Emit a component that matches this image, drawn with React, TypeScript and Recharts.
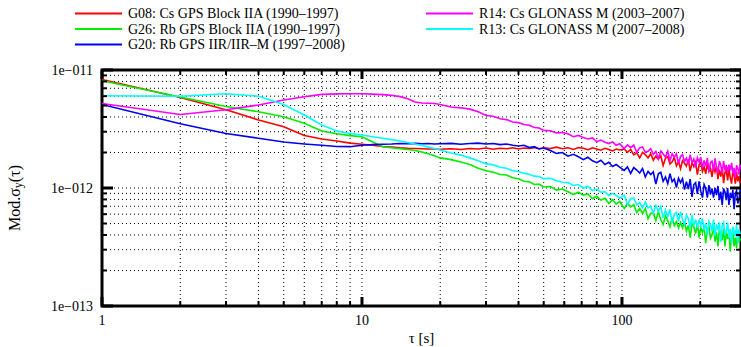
import React from "react";
import {
  LineChart,
  Line,
  XAxis,
  YAxis,
  CartesianGrid,
  ReferenceArea,
} from "recharts";

// averaging time tau [s]
const TAU = [
  1, 2, 3, 4, 5, 6, 7, 8, 9, 10, 11, 12, 13, 14, 15, 16, 17, 18, 19, 20,
  22, 24, 26, 28, 30, 32, 34, 36, 38, 40, 42, 44, 46, 48, 50,
  53, 56, 59, 62, 65, 68, 71, 74, 77, 80, 83, 86, 89, 92, 95, 98,
  102, 105, 108, 111, 114, 117, 120, 123, 126, 129, 132, 135, 138, 141, 144, 147,
  150, 153, 156, 159, 162, 165, 168, 171, 174, 177, 180, 183, 186, 189, 192, 195,
  198, 201, 204, 207, 210, 213, 216, 219, 222, 225, 228, 231, 234, 237, 240, 243,
  246, 249, 252, 255, 258, 261, 264, 267, 270, 273, 276, 279, 282, 285,
];

// Mod. sigma_y(tau), in units of 1e-12
const G08 = [
  8.3, 5.85, 4.6, 3.77, 3.31, 2.78, 2.6, 2.5, 2.4, 2.35, 2.3, 2.25, 2.22, 2.19, 2.17, 2.16, 2.15, 2.14, 2.14, 2.13,
  2.15, 2.12, 2.16, 2.14, 2.18, 2.13, 2.17, 2.15, 2.19, 2.14, 2.18, 2.16, 2.2, 2.15, 2.19,
  2.16, 2.22, 2.15, 2.19, 2.12, 2.2, 2.17, 2.11, 2.19, 2.14, 2.09, 2.17, 2.12, 2.06, 2.14, 2.1,
  2.14, 2.01, 2.12, 1.91, 1.99, 1.8, 2.0, 1.92, 1.8, 1.95, 1.72, 1.86, 1.75, 1.88, 1.55, 1.79,
  1.84, 1.6, 1.67, 1.81, 1.54, 1.68, 1.46, 1.7, 1.62, 1.53, 1.75, 1.39, 1.64, 1.52, 1.66, 1.3,
  1.57, 1.65, 1.38, 1.51, 1.32, 1.62, 1.38, 1.47, 1.24, 1.52, 1.37, 1.53, 1.19, 1.43, 1.25, 1.5,
  1.1, 1.36, 1.41, 1.16, 1.46, 1.22, 1.09, 1.38, 1.28, 1.09, 1.37, 1.14, 1.26, 1.1,
];
const G26 = [
  8.1, 5.9, 4.9, 4.43, 4.02, 3.53, 3.04, 2.88, 2.78, 2.72, 2.45, 2.24, 2.19, 2.15, 2.12, 2.08, 2.02, 1.95, 1.88, 1.8,
  1.74, 1.66, 1.58, 1.47, 1.4, 1.36, 1.3, 1.29, 1.22, 1.2, 1.14, 1.13, 1.07, 1.08, 1.02,
  1.03, 0.96, 0.98, 0.93, 0.88, 0.92, 0.87, 0.89, 0.81, 0.85, 0.79, 0.82, 0.74, 0.8, 0.73, 0.77,
  0.67, 0.74, 0.69, 0.72, 0.62, 0.67, 0.61, 0.67, 0.55, 0.61, 0.61, 0.53, 0.63, 0.54, 0.49, 0.58,
  0.53, 0.47, 0.56, 0.48, 0.52, 0.46, 0.51, 0.46, 0.52, 0.43, 0.48, 0.38, 0.5, 0.47, 0.41, 0.5,
  0.38, 0.46, 0.42, 0.47, 0.34, 0.45, 0.47, 0.375, 0.4, 0.48, 0.35, 0.42, 0.32, 0.44, 0.4, 0.36,
  0.45, 0.32, 0.42, 0.37, 0.43, 0.29, 0.4, 0.42, 0.32, 0.38, 0.31, 0.43, 0.34, 0.375,
];
const G20 = [
  5.1, 3.5, 2.9, 2.64, 2.45, 2.36, 2.3, 2.25, 2.24, 2.3, 2.33, 2.35, 2.36, 2.38, 2.37, 2.39, 2.37, 2.38, 2.36, 2.37,
  2.39, 2.35, 2.38, 2.4, 2.36, 2.38, 2.33, 2.36, 2.3, 2.27, 2.3, 2.2, 2.24, 2.14, 2.18,
  2.08, 1.96, 2.0, 1.86, 1.93, 1.84, 1.74, 1.82, 1.7, 1.64, 1.72, 1.58, 1.65, 1.52, 1.58, 1.5,
  1.41, 1.51, 1.33, 1.49, 1.42, 1.34, 1.46, 1.24, 1.38, 1.3, 1.37, 1.08, 1.32, 1.36, 1.14, 1.24,
  1.09, 1.32, 1.13, 1.19, 1.01, 1.21, 1.11, 1.2, 0.97, 1.13, 0.98, 1.19, 0.84, 1.07, 1.11, 0.89,
  1.14, 0.94, 0.83, 1.07, 0.99, 0.83, 1.06, 0.88, 0.99, 0.83, 1.0, 0.87, 1.04, 0.79, 0.93, 0.72,
  0.99, 0.92, 0.79, 1.0, 0.72, 0.91, 0.82, 0.96, 0.66, 0.9, 0.95, 0.74, 0.8, 0.96,
];
const R14 = [
  5.2, 4.2, 4.6, 5.05, 5.57, 5.94, 6.22, 6.28, 6.3, 6.3, 6.25, 6.18, 6.1, 5.95, 5.7, 5.35, 5.25, 5.22, 5.2, 5.1,
  4.85, 4.78, 4.66, 4.42, 4.12, 4.05, 3.86, 3.8, 3.62, 3.58, 3.45, 3.4, 3.26, 3.22, 3.08,
  3.06, 2.93, 2.95, 2.88, 2.72, 2.79, 2.68, 2.6, 2.66, 2.47, 2.55, 2.44, 2.38, 2.46, 2.3, 2.37,
  2.16, 2.32, 2.2, 2.31, 2.01, 2.19, 2.23, 2.01, 2.05, 2.16, 1.92, 2.04, 1.77, 2.06, 1.94, 1.83,
  2.05, 1.71, 1.95, 1.82, 1.95, 1.6, 1.85, 1.92, 1.67, 1.79, 1.59, 1.92, 1.64, 1.76, 1.49, 1.81,
  1.66, 1.82, 1.48, 1.71, 1.53, 1.79, 1.38, 1.64, 1.69, 1.4, 1.78, 1.49, 1.33, 1.69, 1.56, 1.34,
  1.69, 1.41, 1.57, 1.36, 1.58, 1.41, 1.63, 1.32, 1.48, 1.22, 1.56, 1.47, 1.3, 1.58,
];
const R13 = [
  6.05, 6.0, 6.3, 6.0, 5.1, 4.16, 3.42, 3.04, 2.9, 2.81, 2.72, 2.64, 2.57, 2.5, 2.43, 2.36, 2.29, 2.22, 2.16, 2.1,
  1.98, 1.9, 1.8, 1.7, 1.6, 1.57, 1.5, 1.47, 1.4, 1.38, 1.33, 1.31, 1.26, 1.25, 1.2,
  1.21, 1.15, 1.12, 1.11, 1.05, 1.07, 1.0, 1.03, 0.95, 0.98, 0.92, 0.93, 0.86, 0.9, 0.87, 0.82,
  0.87, 0.73, 0.81, 0.82, 0.72, 0.75, 0.68, 0.76, 0.68, 0.7, 0.61, 0.71, 0.64, 0.7, 0.56, 0.65,
  0.57, 0.66, 0.505, 0.6, 0.62, 0.52, 0.63, 0.54, 0.49, 0.59, 0.55, 0.46, 0.59, 0.48, 0.54, 0.46,
  0.54, 0.48, 0.55, 0.44, 0.5, 0.4, 0.52, 0.49, 0.43, 0.54, 0.39, 0.49, 0.44, 0.51, 0.35, 0.48,
  0.51, 0.4, 0.43, 0.51, 0.38, 0.45, 0.34, 0.47, 0.43, 0.39, 0.49, 0.34, 0.45, 0.4,
];

const SERIES = [
  { key: "g08", values: G08, color: "#ff0000", name: "G08: Cs GPS Block IIA (1990\u20131997)" },
  { key: "g26", values: G26, color: "#00ee00", name: "G26: Rb GPS Block IIA (1990\u20131997)" },
  { key: "g20", values: G20, color: "#0000ee", name: "G20: Rb GPS IIR/IIR\u2013M (1997\u20132008)" },
  { key: "r14", values: R14, color: "#ff00ff", name: "R14: Cs GLONASS M (2003\u20132007)" },
  { key: "r13", values: R13, color: "#00ffff", name: "R13: Cs GLONASS M (2007\u20132008)" },
];

const X_TICKS = [1, 2, 3, 4, 5, 6, 7, 8, 9, 10, 20, 30, 40, 50, 60, 70, 80, 90, 100, 200];
const X_MAJOR = [1, 10, 100];
const Y_TICKS = [0.1, 0.2, 0.3, 0.4, 0.5, 0.6, 0.7, 0.8, 0.9, 1, 2, 3, 4, 5, 6, 7, 8, 9, 10];
const Y_LABELS: Record<number, string> = { 0.1: "1e\u2212013", 1: "1e\u2212012", 10: "1e\u2212011" };

const W = 741;
const H = 347;
const TOP = 70;
const BOTTOM = 306;
const LEFT = 102;
const RIGHT = 741;
const FONT = "Liberation Serif, Times New Roman, serif";
const textStyle = { fontFamily: FONT };

const data = TAU.map(function (t, i) {
  const row: Record<string, number> = { tau: t };
  SERIES.forEach(function (s) {
    row[s.key] = s.values[i];
  });
  return row;
});

function XTick(props: any) {
  const { x, payload } = props;
  const major = X_MAJOR.indexOf(payload.value) >= 0;
  const len = major ? 9 : 5;
  const sw = major ? 3 : 2;
  return (
    <g>
      <line x1={x} x2={x} y1={BOTTOM} y2={BOTTOM - len} stroke="#000" strokeWidth={sw} />
      <line x1={x} x2={x} y1={TOP} y2={TOP + len} stroke="#000" strokeWidth={sw} />
      {major && (
        <text x={x} y={325} textAnchor="middle" style={textStyle} fontSize={14} fill="#000">
          {payload.value}
        </text>
      )}
    </g>
  );
}

function YTick(props: any) {
  const { y, payload } = props;
  const label = Y_LABELS[payload.value];
  const len = label ? 11 : 5;
  const sw = label ? 3 : 2;
  return (
    <g>
      <line x1={LEFT} x2={LEFT + len} y1={y} y2={y} stroke="#000" strokeWidth={sw} />
      <line x1={RIGHT} x2={RIGHT - len} y1={y} y2={y} stroke="#000" strokeWidth={sw} />
      {label && (
        <text x={93} y={y} textAnchor="end" dominantBaseline="central" style={textStyle} fontSize={14} fill="#000">
          {label}
        </text>
      )}
    </g>
  );
}

function LegendBox() {
  const rows = [
    { s: SERIES[0], x: 75, y: 13.5 },
    { s: SERIES[1], x: 75, y: 29 },
    { s: SERIES[2], x: 75, y: 44.5 },
    { s: SERIES[3], x: 426, y: 13.5 },
    { s: SERIES[4], x: 426, y: 29 },
  ];
  return (
    <svg width={W} height={58} style={{ position: "absolute", left: 0, top: 0 }}>
      {rows.map(function (r) {
        return (
          <g key={r.s.key}>
            <line x1={r.x} x2={r.x + 47} y1={r.y} y2={r.y} stroke={r.s.color} strokeWidth={2} />
            <text x={r.x + 53} y={r.y} dominantBaseline="central" style={textStyle} fontSize={14} fill="#000">
              {r.s.name}
            </text>
          </g>
        );
      })}
    </svg>
  );
}

function YTitle() {
  return (
    <text
      x={14}
      y={198}
      transform="rotate(-90 14 198)"
      textAnchor="middle"
      dominantBaseline="central"
      style={textStyle}
      fontSize={16}
      fill="#000"
    >
      Mod.{"\u03c3"}
      <tspan dy={4} fontSize={12}>y</tspan>
      <tspan dy={-4}>({"\u03c4"})</tspan>
    </text>
  );
}

export default function App() {
  return (
    <div style={{ position: "absolute", left: 0, top: 0, width: W, height: H, background: "#fff", fontFamily: FONT }}>
      <LineChart width={W} height={H} data={data} margin={{ top: TOP, right: W - RIGHT, bottom: 0, left: 0 }}>
        <CartesianGrid stroke="#000" strokeDasharray="1 3" strokeWidth={1} />
        <XAxis
          dataKey="tau"
          type="number"
          scale="log"
          domain={[1, 287]}
          allowDataOverflow
          ticks={X_TICKS}
          interval={0}
          tick={XTick}
          tickLine={false}
          axisLine={false}
          height={H - BOTTOM}
          label={{
            value: "\u03c4 [s]",
            position: "insideBottom",
            offset: 4,
            style: textStyle,
            fontSize: 15,
            fill: "#000",
          }}
        />
        <YAxis
          type="number"
          scale="log"
          domain={[0.1, 10]}
          allowDataOverflow
          ticks={Y_TICKS}
          interval={0}
          tick={YTick}
          tickLine={false}
          axisLine={false}
          width={LEFT}
          label={{ content: YTitle }}
        />
        {SERIES.map(function (s) {
          return (
            <Line
              key={s.key}
              dataKey={s.key}
              name={s.name}
              stroke={s.color}
              strokeWidth={1.6}
              dot={false}
              type="linear"
              isAnimationActive={false}
            />
          );
        })}
        <ReferenceArea x1={1} x2={287} y1={0.1} y2={10} fill="none" stroke="#000" strokeWidth={3} />
      </LineChart>
      <LegendBox />
    </div>
  );
}
